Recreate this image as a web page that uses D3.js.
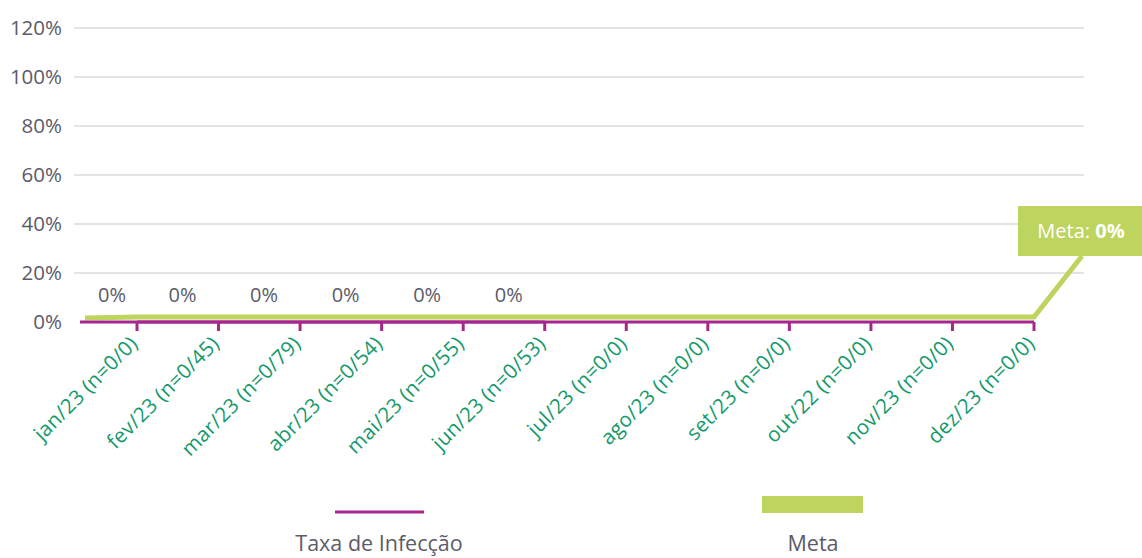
<!DOCTYPE html>
<html>
<head>
<meta charset="utf-8">
<script src="https://cdn.jsdelivr.net/npm/d3@7"></script>
<style>
  body { margin: 0; background: #fff; }
  text { font-family: "Open Sans", sans-serif; }
</style>
</head>
<body>
<div class="chart"></div>
<script>
var months = ["jan/23 (n=0/0)", "fev/23 (n=0/45)", "mar/23 (n=0/79)", "abr/23 (n=0/54)",
  "mai/23 (n=0/55)", "jun/23 (n=0/53)", "jul/23 (n=0/0)", "ago/23 (n=0/0)",
  "set/23 (n=0/0)", "out/22 (n=0/0)", "nov/23 (n=0/0)", "dez/23 (n=0/0)"]
var taxa = [0, 0, 0, 0, 0, 0, null, null, null, null, null, null]
var meta = [0, 0, 0, 0, 0, 0, 0, 0, 0, 0, 0, 0]
var yTicks = [0, 0.2, 0.4, 0.6, 0.8, 1.0, 1.2]

var magenta = "#a5278e"
var lime = "#bdd45f"
var grey = "#5b5b69"

var svg = d3.select(".chart").append("svg")
  .attr("width", 1142)
  .attr("height", 558)

var x = d3.scalePoint().domain(months).range([137, 1034])
var y = d3.scaleLinear().domain([0, 1.2]).range([322, 28])

// grid
svg.append("g")
  .selectAll("line")
  .data(yTicks.slice(1))
  .enter()
  .append("line")
  .attr("x1", 74)
  .attr("x2", 1084)
  .attr("y1", function(d) { return y(d) })
  .attr("y2", function(d) { return y(d) })
  .attr("stroke", "#c9c9c9")
  .attr("stroke-width", 1)

// y labels
svg.append("g")
  .selectAll("text")
  .data(yTicks)
  .enter()
  .append("text")
  .attr("x", 62)
  .attr("y", function(d) { return y(d) + 7 })
  .attr("text-anchor", "end")
  .attr("font-size", 20.5)
  .attr("fill", grey)
  .text(function(d) { return Math.round(d * 100) + "%" })

// meta line (runs in from the left and up to the label box)
var metaPts = [[x(months[0]) - 52, y(meta[0]) - 4]]
months.forEach(function(m, i) { metaPts.push([x(m), y(meta[i]) - 5]) })
metaPts.push([1082, 256])
svg.append("path")
  .attr("d", d3.line()(metaPts))
  .attr("fill", "none")
  .attr("stroke", lime)
  .attr("stroke-width", 5)

// x axis in magenta (taxa series sits on it)
var xAxis = svg.append("g")
  .attr("transform", "translate(0," + y(0) + ")")
xAxis.append("line")
  .attr("x1", 80)
  .attr("x2", 1034)
  .attr("stroke", magenta)
  .attr("stroke-width", 3)
xAxis.selectAll(".tk")
  .data(months)
  .enter()
  .append("line")
  .attr("x1", function(d) { return x(d) })
  .attr("x2", function(d) { return x(d) })
  .attr("y1", 0)
  .attr("y2", 9)
  .attr("stroke", magenta)
  .attr("stroke-width", 3)

// taxa line
svg.append("path")
  .datum(taxa.map(function(v, i) { return [months[i], v] }).filter(function(d) { return d[1] != null }))
  .attr("d", d3.line().x(function(d) { return x(d[0]) }).y(function(d) { return y(d[1]) }))
  .attr("fill", "none")
  .attr("stroke", magenta)
  .attr("stroke-width", 3)

// data labels
svg.append("g")
  .selectAll("text")
  .data(months.filter(function(m, i) { return taxa[i] != null }))
  .enter()
  .append("text")
  .attr("x", function(d, i) { return x(d) - (i == 0 ? 25 : 36) })
  .attr("y", 302)
  .attr("text-anchor", "middle")
  .attr("font-size", 20)
  .attr("fill", grey)
  .text(function(d) { return Math.round(taxa[months.indexOf(d)] * 100) + "%" })

// x labels
svg.append("g")
  .selectAll("text")
  .data(months)
  .enter()
  .append("text")
  .attr("transform", function(d) { return "translate(" + (x(d) + 2) + ",345) rotate(-45)" })
  .attr("text-anchor", "end")
  .attr("font-size", 20.5)
  .attr("letter-spacing", 0.3)
  .attr("fill", "#13996a")
  .text(function(d) { return d })

// meta callout
var call = svg.append("g")
call.append("rect")
  .attr("x", 1018)
  .attr("y", 206)
  .attr("width", 124)
  .attr("height", 50)
  .attr("fill", lime)
var ct = call.append("text")
  .attr("x", 1081)
  .attr("y", 238)
  .attr("text-anchor", "middle")
  .attr("font-size", 20)
  .attr("fill", "#fff")
ct.append("tspan").text("Meta:  ")
ct.append("tspan").attr("font-weight", "bold").text(Math.round(meta[11] * 100) + "%")

// legend
var leg = svg.append("g")
leg.append("line")
  .attr("x1", 335)
  .attr("x2", 424)
  .attr("y1", 512)
  .attr("y2", 512)
  .attr("stroke", magenta)
  .attr("stroke-width", 3)
leg.append("text")
  .attr("x", 379)
  .attr("y", 551)
  .attr("text-anchor", "middle")
  .attr("font-size", 21.5)
  .attr("fill", grey)
  .text("Taxa de Infecção")
leg.append("rect")
  .attr("x", 762)
  .attr("y", 496)
  .attr("width", 101)
  .attr("height", 17)
  .attr("fill", lime)
leg.append("text")
  .attr("x", 813)
  .attr("y", 551)
  .attr("text-anchor", "middle")
  .attr("font-size", 21.5)
  .attr("fill", grey)
  .text("Meta")
</script>
</body>
</html>
